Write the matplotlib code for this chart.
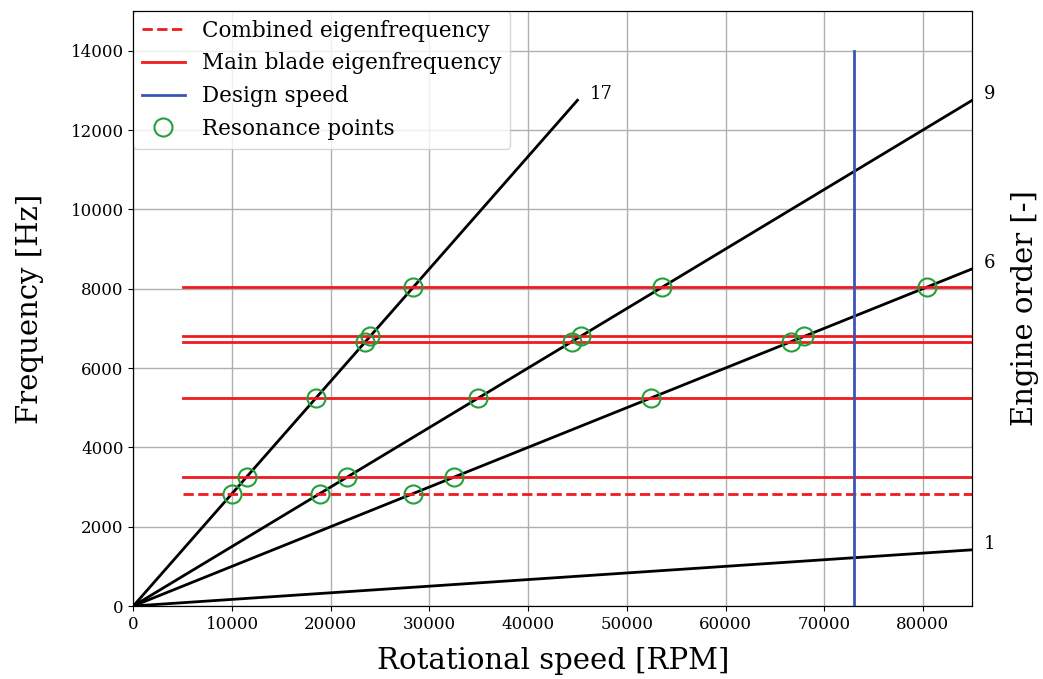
import numpy as np
import matplotlib
matplotlib.use("Agg")
import matplotlib.pyplot as plt

plt.rcParams['font.family'] = ['DejaVu Serif']

# Engine orders drawn as excitation lines, with the speed at which each line stops
engine_orders = [1, 6, 9, 17]
order_end_rpm = [85000, 85000, 85000, 45000]

# Blade eigenfrequencies [Hz]
main_blade_freqs = [3250, 5240, 6660, 6800, 8040]
combined_freq = 2830

freq_line_start = 5000
freq_line_end = 85000
design_speed = 73000
design_speed_top = 14000

fig = plt.figure(figsize=(10.43, 6.79), dpi=100)
ax = fig.add_axes([0.1278, 0.1075, 0.8044, 0.8763])

# Engine order lines
for eo, rpm_end in zip(engine_orders, order_end_rpm):
    rpm = np.array([0, rpm_end])
    ax.plot(rpm, eo * rpm / 60.0, color='black', lw=2, zorder=2)
    ax.text(rpm_end + 1200, eo * rpm_end / 60.0 + 150, str(eo),
            fontsize=13, ha='left', va='center')

# Eigenfrequency lines
ax.plot([freq_line_start, freq_line_end], [combined_freq, combined_freq],
        color='#f01a1e', lw=2, ls='--', label='Combined eigenfrequency', zorder=3)
for i, f in enumerate(main_blade_freqs):
    ax.plot([freq_line_start, freq_line_end], [f, f], color='#f01a1e', lw=2,
            label='Main blade eigenfrequency' if i == 0 else None, zorder=3)

# Design speed
ax.plot([design_speed, design_speed], [0, design_speed_top], color='#3b55b5',
        lw=2, label='Design speed', zorder=4)

# Resonance points: where an engine order line crosses an eigenfrequency
res_x, res_y = [], []
for eo, rpm_end in zip(engine_orders, order_end_rpm):
    for f in [combined_freq] + main_blade_freqs:
        rpm = f * 60.0 / eo
        if rpm <= rpm_end and rpm >= freq_line_start:
            res_x.append(rpm)
            res_y.append(f)
ax.plot(res_x, res_y, ls='none', marker='o', ms=13, mfc='none', mec='#23a03a',
        mew=1.5, label='Resonance points', zorder=5)

ax.set_xlim(0, 85000)
ax.set_ylim(0, 15000)
ax.set_xticks(np.arange(0, 85000, 10000))
ax.set_yticks(np.arange(0, 15000, 2000))
ax.tick_params(labelsize=12)
ax.grid(True, color='#b0b0b0', lw=1)
ax.set_axisbelow(True)
ax.set_xlabel('Rotational speed [RPM]', fontsize=21, labelpad=10)
ax.set_ylabel('Frequency [Hz]', fontsize=21, labelpad=19)

ax2 = ax.twinx()
ax2.set_yticks([])
ax2.set_ylabel('Engine order [-]', fontsize=21, labelpad=28)

ax.legend(loc='upper left', fontsize=15.5, borderaxespad=0.0)

fig.savefig('out.png', dpi=100)
